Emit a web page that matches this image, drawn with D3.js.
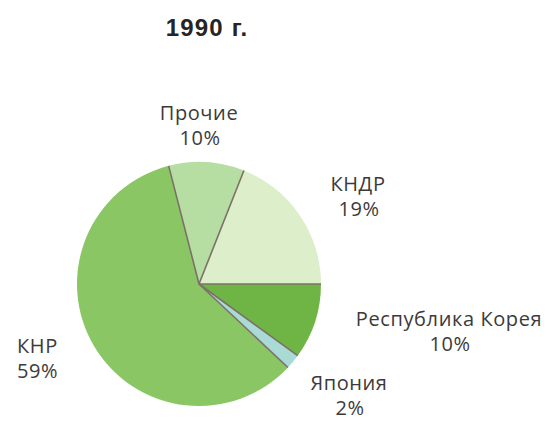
<!DOCTYPE html>
<html>
<head>
<meta charset="UTF-8">
<title>1990 г.</title>
<script src="https://cdn.jsdelivr.net/npm/d3@7"></script>
<style>
  body { margin: 0; background: #ffffff; }
  text { font-family: "Open Sans", "Noto Sans", sans-serif; fill: #3c3a3a; }
</style>
</head>
<body>
<svg id="chart" width="557" height="443"></svg>
<script>
// shares of trade, 1990
const names = ["КНДР", "Республика Корея", "Япония", "КНР", "Прочие"];
const shares = [19, 10, 2, 59, 10];
const colors = ["#ddeeca", "#6fb545", "#a9dad6", "#8ac764", "#b7dea2"];

// label placement (x, baseline y of the name) per slice
const labelPos = [[358, 191], [449, 326], [349, 390], [17, 353], [199, 120]];
const labelAnchor = ["middle", "middle", "middle", "start", "middle"];

const svg = d3.select("#chart");
const cx = 199, cy = 284, r = 122;

svg.append("text")
    .attr("x", 207).attr("y", 36)
    .attr("text-anchor", "middle")
    .style("font-family", "Liberation Sans, Arial, sans-serif")
    .style("font-weight", "bold")
    .style("font-size", "24px")
    .style("letter-spacing", "1.2px")
    .style("fill", "#262424")
    .text("1990 г.");

// KNDR slice ends on the horizontal radius
const start = Math.PI / 2 - 2 * Math.PI * shares[0] / 100;
const pie = d3.pie().sort(null).startAngle(start).endAngle(start + 2 * Math.PI);
const arcs = pie(shares);
const arc = d3.arc().innerRadius(0).outerRadius(r);

const g = svg.append("g").attr("transform", "translate(" + cx + "," + cy + ")");

g.selectAll("path")
    .data(arcs)
    .enter().append("path")
    .attr("d", arc)
    .attr("fill", (d, i) => colors[i]);

// thin dark dividers between slices
g.selectAll("line")
    .data(arcs)
    .enter().append("line")
    .attr("x1", 0).attr("y1", 0)
    .attr("x2", d => d3.pointRadial(d.startAngle, r)[0])
    .attr("y2", d => d3.pointRadial(d.startAngle, r)[1])
    .attr("stroke", "#7d706a")
    .attr("stroke-width", 1.6);

const labels = svg.selectAll("g.lbl")
    .data(arcs)
    .enter().append("g")
    .attr("class", "lbl");

labels.append("text")
    .attr("x", (d, i) => labelPos[i][0])
    .attr("y", (d, i) => labelPos[i][1])
    .attr("text-anchor", (d, i) => labelAnchor[i])
    .style("font-size", "20px")
    .style("letter-spacing", "0.6px")
    .text((d, i) => names[i]);

labels.append("text")
    .attr("x", (d, i) => labelPos[i][0] + (labelAnchor[i] === "start" ? 0 : 1))
    .attr("y", (d, i) => labelPos[i][1] + 25)
    .attr("text-anchor", (d, i) => labelAnchor[i])
    .style("font-size", "20px")
    .style("letter-spacing", "0.6px")
    .text(d => d.data + "%");
</script>
</body>
</html>
